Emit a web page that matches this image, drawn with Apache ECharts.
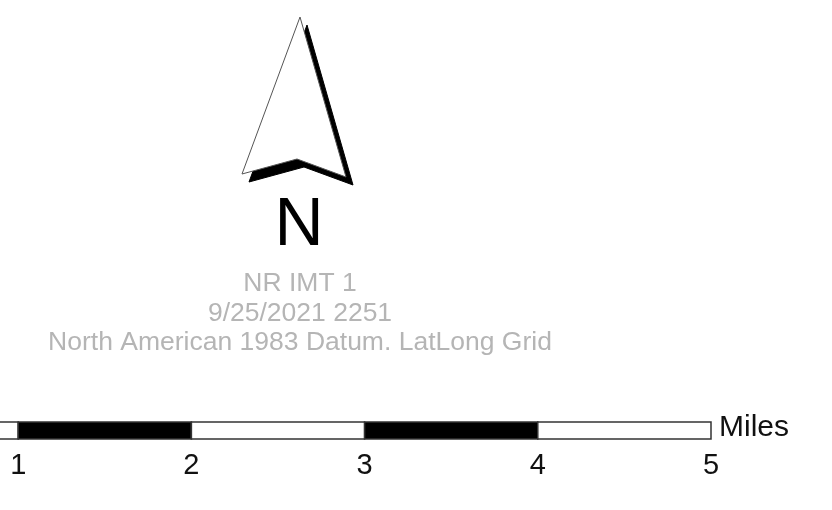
<!DOCTYPE html>
<html>
<head>
<meta charset="utf-8">
<script src="https://cdn.jsdelivr.net/npm/echarts@6/dist/echarts.min.js"></script>
<style>
html,body{margin:0;padding:0;background:#fff;}
#chart{width:832px;height:510px;}
</style>
</head>
<body>
<div id="chart"></div>
<script>
// ---- data ----
const scaleBreaks = [0, 1, 2, 3, 4, 5];          // miles
const tickLabels = ['1', '2', '3', '4', '5'];
const scaleUnit = 'Miles';
const infoLines = ['NR IMT 1', '9/25/2021 2251', 'North American 1983 Datum. LatLong Grid'];
const northLabel = 'N';

const segments = [];
for (let i = 0; i < scaleBreaks.length - 1; i++) segments.push([scaleBreaks[i], scaleBreaks[i + 1]]);

const FONT = '"Liberation Sans", Arial, sans-serif';
const chart = echarts.init(document.getElementById('chart'), null, {renderer: 'canvas'});

// north arrow geometry (decoration, not data)
const arrow = [[300, 17], [346, 177], [297, 159], [242, 174]];
const off = [7, 8];
const shadow = arrow.map(p => [p[0] + off[0], p[1] + off[1]]);

chart.setOption({
  backgroundColor: '#fff',
  animation: false,
  grid: {left: -155, right: 121, top: 422, height: 17, outerBoundsMode: 'none', containLabel: false},
  xAxis: {
    type: 'value', min: 0, max: 5, interval: 1,
    axisLine: {show: false}, axisTick: {show: false}, splitLine: {show: false},
    axisLabel: {
      margin: 12, fontFamily: FONT, fontSize: 29, color: '#111',
      formatter: v => { const k = scaleBreaks.indexOf(v); return k > 0 ? tickLabels[k - 1] : ''; }
    },
    name: scaleUnit, nameLocation: 'end', nameGap: 8,
    nameTextStyle: {fontFamily: FONT, fontSize: 30, color: '#111', verticalAlign: 'bottom', lineHeight: 22}
  },
  yAxis: {type: 'value', min: 0, max: 1, show: false},
  series: [{
    type: 'custom',
    clip: false,
    data: segments,
    renderItem: (params, api) => {
      const p0 = api.coord([api.value(0), 1]);
      const p1 = api.coord([api.value(1), 0]);
      return {
        type: 'rect',
        shape: {x: p0[0], y: p0[1], width: p1[0] - p0[0], height: p1[1] - p0[1]},
        style: {fill: params.dataIndex % 2 ? '#000' : '#fff', stroke: '#333', lineWidth: 1.5}
      };
    }
  }],
  graphic: [
    {type: 'polygon', shape: {points: shadow}, style: {fill: '#000', stroke: '#000', lineWidth: 1}, z: 10},
    {type: 'polygon', shape: {points: arrow}, style: {fill: '#fff', stroke: '#555', lineWidth: 1}, z: 11},
    {type: 'text', x: 299, y: 226, z: 11,
     style: {text: northLabel, fontFamily: FONT, fontSize: 68, fill: '#000', align: 'center', verticalAlign: 'middle'}},
    {type: 'text', x: 300, y: 269, z: 11,
     style: {text: infoLines.join('\n'), fontFamily: FONT, fontSize: 26.5, lineHeight: 29.5, fill: '#b5b5b5', align: 'center', verticalAlign: 'top'}}
  ]
});
</script>
</body>
</html>
